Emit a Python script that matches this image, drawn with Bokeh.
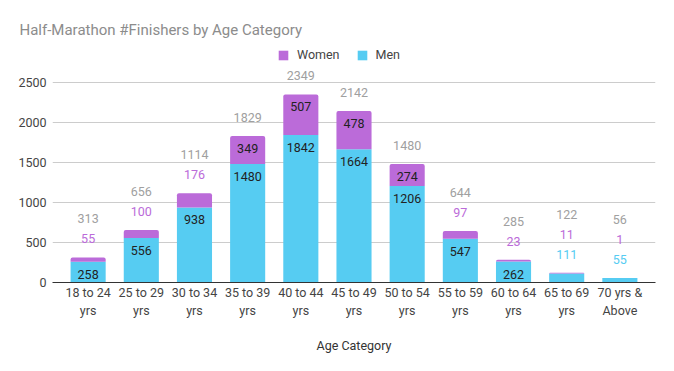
import numpy as np
from bokeh.plotting import figure
from bokeh.models import ColumnDataSource, FactorRange, Range1d, FixedTicker, Legend, LegendItem
from bokeh.core.properties import value
from bokeh.embed import file_html
from bokeh.resources import INLINE

categories = ["18 to 24\nyrs", "25 to 29\nyrs", "30 to 34\nyrs", "35 to 39\nyrs",
              "40 to 44\nyrs", "45 to 49\nyrs", "50 to 54\nyrs", "55 to 59\nyrs",
              "60 to 64\nyrs", "65 to 69\nyrs", "70 yrs &\nAbove"]
men = [258, 556, 938, 1480, 1842, 1664, 1206, 547, 262, 111, 55]
women = [55, 100, 176, 349, 507, 478, 274, 97, 23, 11, 1]
y_ticks = [0, 500, 1000, 1500, 2000, 2500]

MEN_C = "#56ccf2"
WOMEN_C = "#bb6bd9"
FONT = "Roboto"

totals = list(np.array(men) + np.array(women))

src = ColumnDataSource(dict(cat=categories, men=men, women=women, total=totals))

p = figure(width=658, height=355,
           x_range=FactorRange(factors=categories, range_padding=0.17, range_padding_units="absolute"),
           y_range=Range1d(0, 2985),
           output_backend="svg", toolbar_location=None,
           min_border_left=52, min_border_right=3, min_border_top=43, min_border_bottom=72)

p.title.text = "Half-Marathon #Finishers by Age Category"
p.title.text_font = FONT
p.title.text_font_size = "15px"
p.title.text_font_style = "normal"
p.title.text_color = "#8c8c8c"
p.title.offset = -33

rm = p.vbar(x="cat", bottom=0, top="men", width=0.66, source=src,
            fill_color=MEN_C, line_color=None)
rw = p.vbar(x="cat", bottom="men", top="total", width=0.66, source=src,
            fill_color=WOMEN_C, line_color=None, border_radius=(2, 2, 0, 0))

# data labels
THR = 200
lx, ly, lt, lc, lo = [], [], [], [], []
for c, m, w, t in zip(categories, men, women, totals):
    k = 0
    if m >= THR:
        lx.append(c); ly.append(m); lt.append(str(m)); lc.append("#222222"); lo.append(12.5)
    else:
        lx.append(c); ly.append(t); lt.append(str(m)); lc.append(MEN_C); lo.append(-(18.5 + 20 * k)); k += 1
    if w >= THR:
        lx.append(c); ly.append(t); lt.append(str(w)); lc.append("#222222"); lo.append(12.5)
    else:
        lx.append(c); ly.append(t); lt.append(str(w)); lc.append(WOMEN_C); lo.append(-(18.5 + 20 * k)); k += 1
    lx.append(c); ly.append(t); lt.append(str(t)); lc.append("#a0a0a0"); lo.append(-(18.5 + 20 * k))

lsrc = ColumnDataSource(dict(x=lx, y=ly, t=lt, c=lc, o=lo))
p.text(x="x", y="y", text="t", text_color="c", y_offset="o", source=lsrc,
       text_align="center", text_baseline="middle",
       text_font=value(FONT), text_font_size="12.5px")

legend = Legend(items=[LegendItem(label="Women", renderers=[rw]),
                       LegendItem(label="Men", renderers=[rm])],
                orientation="horizontal", location=(225, 220),
                border_line_color=None, background_fill_alpha=0,
                padding=0, margin=0, spacing=16, label_standoff=8,
                glyph_width=12, glyph_height=12, label_height=12,
                label_text_font=FONT, label_text_font_size="12.5px",
                label_text_color="#444444")
p.add_layout(legend)

p.yaxis.ticker = FixedTicker(ticks=y_ticks)
p.yaxis.major_tick_line_color = None
p.yaxis.major_tick_out = 0
p.yaxis.major_tick_in = 0
p.yaxis.minor_tick_line_color = None
p.yaxis.axis_line_color = None
p.yaxis.major_label_standoff = 6
p.yaxis.major_label_text_font = FONT
p.yaxis.major_label_text_font_size = "12.5px"
p.yaxis.major_label_text_color = "#444444"

p.xaxis.axis_line_color = "#333333"
p.xaxis.major_tick_line_color = None
p.xaxis.major_tick_out = 0
p.xaxis.major_tick_in = 0
p.xaxis.minor_tick_line_color = None
p.xaxis.major_label_standoff = 2
p.xaxis.major_label_text_font = FONT
p.xaxis.major_label_text_font_size = "12.5px"
p.xaxis.major_label_text_color = "#444444"
p.xaxis.axis_label = "Age Category"
p.xaxis.axis_label_text_font = FONT
p.xaxis.axis_label_text_font_size = "12.5px"
p.xaxis.axis_label_text_font_style = "normal"
p.xaxis.axis_label_text_color = "#333333"
p.xaxis.axis_label_standoff = 17

p.xgrid.grid_line_color = None
p.ygrid.grid_line_color = "#cccccc"
p.outline_line_color = None

open("out.html", "w").write(file_html(p, INLINE))
